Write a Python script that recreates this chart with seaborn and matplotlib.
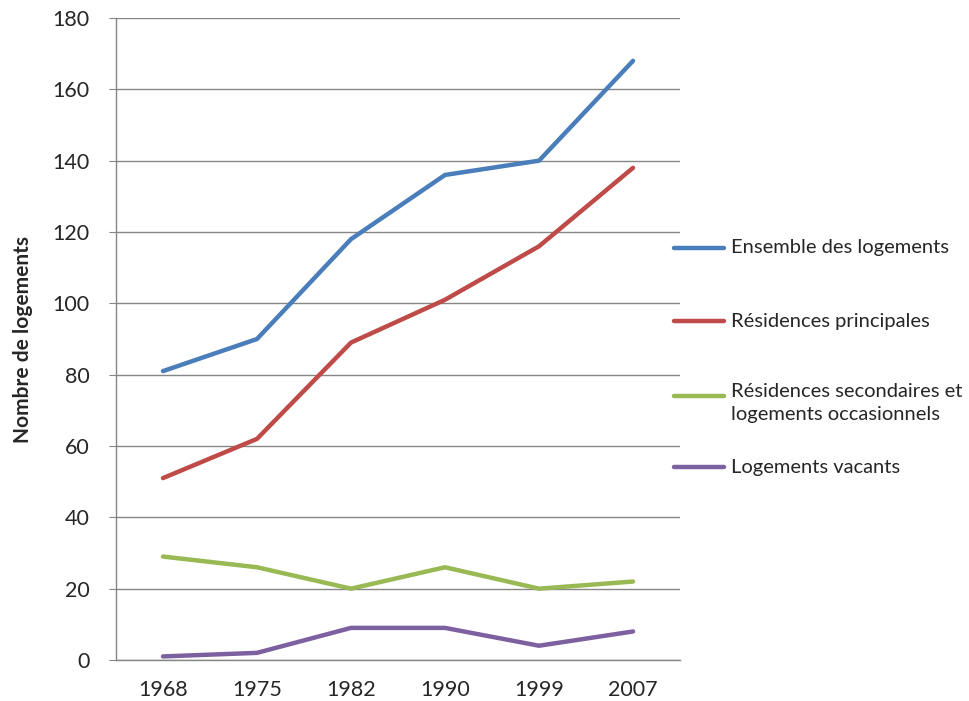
import matplotlib
matplotlib.use("Agg")
import matplotlib.pyplot as plt
from matplotlib.lines import Line2D
import seaborn as sns
import pandas as pd

years = ["1968", "1975", "1982", "1990", "1999", "2007"]
ensemble = [81, 90, 118, 136, 140, 168]
principales = [51, 62, 89, 101, 116, 138]
secondaires = [29, 26, 20, 26, 20, 22]
vacants = [1, 2, 9, 9, 4, 8]

series_names = [
    "Ensemble des logements",
    "Résidences principales",
    "Résidences secondaires et\nlogements occasionnels",
    "Logements vacants",
]
series_values = [ensemble, principales, secondaires, vacants]
colors = ["#4A7EBB", "#BE4B48", "#98B954", "#7D60A0"]

rows = []
for name, vals in zip(series_names, series_values):
    for y, v in zip(years, vals):
        rows.append({"Année": y, "Valeur": v, "Série": name})
df = pd.DataFrame(rows)

sns.set_style("white")
plt.rcParams["font.family"] = ["Lato", "DejaVu Sans"]

fig = plt.figure(figsize=(9.69, 7.01), dpi=100)
ax = fig.add_axes([0.1197, 0.0585, 0.5821, 0.9158])

sns.lineplot(data=df, x="Année", y="Valeur", hue="Série", palette=colors,
             hue_order=series_names, linewidth=3.2, ax=ax, legend=False,
             sort=False)
for ln in ax.lines:
    ln.set_solid_capstyle("round")
    ln.set_solid_joinstyle("round")

grid_c = "#868686"
ax.set_xlim(-0.5, 5.5)
ax.set_ylim(0, 180)
ax.set_yticks(range(0, 181, 20))
ax.yaxis.grid(True, color=grid_c, linewidth=1)
ax.xaxis.grid(False)
ax.set_axisbelow(True)
for side in ["top", "right"]:
    ax.spines[side].set_visible(False)
for side in ["left", "bottom"]:
    ax.spines[side].set_color(grid_c)
    ax.spines[side].set_linewidth(1)
ax.tick_params(axis="y", which="major", left=True, length=5, color=grid_c,
               labelsize=15.5, pad=14)
ax.tick_params(axis="x", which="major", bottom=False, labelsize=15.5, pad=11)
ax.set_xlabel("")
ax.set_ylabel("Nombre de logements", fontsize=15, fontweight="bold")
ax.yaxis.set_label_coords(-0.148, 0.5)

# legend drawn to the right of the plot
W, H = 969, 701
entries_y = [248, 321, 396, 467]
for name, col, yp in zip(series_names, colors, entries_y):
    yf = 1 - yp / H
    fig.add_artist(Line2D([674 / W, 724 / W], [yf, yf], transform=fig.transFigure,
                          color=col, linewidth=3.2, solid_capstyle="round"))
    if "\n" in name:
        fig.text(731 / W, yf + 13 / H, name, fontsize=14.5, va="top", ha="left",
                 linespacing=1.45)
    else:
        fig.text(731 / W, yf, name, fontsize=14.5, va="center", ha="left")

fig.savefig("out.png", dpi=100)
